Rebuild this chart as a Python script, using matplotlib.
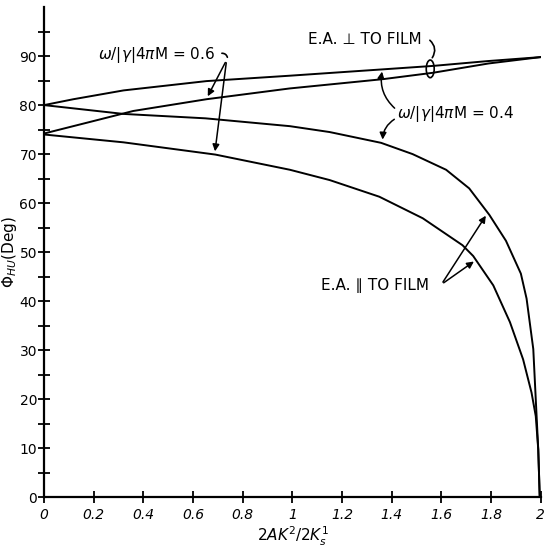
import matplotlib
matplotlib.use("Agg")
import matplotlib.pyplot as plt
from matplotlib.patches import Ellipse

# E.A. perpendicular to film
perp_04_x = [0, 0.118, 0.32, 0.654, 0.989, 1.365, 1.566, 1.79, 2.0]
perp_04_y = [80, 81.2, 83.0, 84.9, 86.0, 87.3, 88.0, 89.0, 89.8]
perp_06_x = [0, 0.172, 0.359, 0.654, 0.989, 1.365, 1.566, 1.79, 2.0]
perp_06_y = [74.2, 76.4, 78.8, 81.2, 83.4, 85.3, 86.6, 88.5, 89.8]

# E.A. parallel to film
par_04_x = [0, 0.32, 0.65, 0.99, 1.15, 1.357, 1.484, 1.619, 1.712, 1.793, 1.86,
            1.92, 1.943, 1.97, 1.98, 1.99, 1.996]
par_04_y = [80, 78.2, 77.3, 75.7, 74.5, 72.3, 70.0, 66.8, 63.0, 57.6, 52.3,
            45.6, 40.5, 30.2, 19.9, 9.7, 0]
par_06_x = [0, 0.32, 0.69, 0.99, 1.15, 1.35, 1.525, 1.685, 1.728, 1.809, 1.876,
            1.929, 1.963, 1.98, 1.99, 1.996]
par_06_y = [74, 72.4, 69.9, 66.8, 64.7, 61.3, 56.9, 51.4, 49.2, 43.2, 35.7,
            28.1, 21.3, 16.5, 9.7, 0]

x_ticks = [0, 0.2, 0.4, 0.6, 0.8, 1, 1.2, 1.4, 1.6, 1.8, 2]
x_labels = ["0", "0.2", "0.4", "0.6", "0.8", "1", "1.2", "1.4", "1.6", "1.8", "2"]
y_ticks = [0, 10, 20, 30, 40, 50, 60, 70, 80, 90]

fig = plt.figure(figsize=(5.44, 5.48), dpi=100)
ax = fig.add_axes([0.081, 0.093, 0.913, 0.894])

lw = 1.4
for xs, ys in [(perp_04_x, perp_04_y), (perp_06_x, perp_06_y),
               (par_04_x, par_04_y), (par_06_x, par_06_y)]:
    ax.plot(xs, ys, color="black", lw=lw, solid_joinstyle="round")

ax.set_xlim(0, 2)
ax.set_ylim(0, 100)
ax.spines["top"].set_visible(False)
ax.spines["right"].set_visible(False)
ax.spines["left"].set_linewidth(1.6)
ax.spines["bottom"].set_linewidth(1.6)
ax.set_xticks(x_ticks)
ax.set_xticklabels(x_labels, fontstyle="italic")
ax.set_yticks(y_ticks)
ax.set_yticks(range(5, 100, 10), minor=True)
ax.tick_params(axis="both", which="both", direction="inout", length=8, width=1.3,
               labelsize=10)
ax.tick_params(axis="x", pad=4)
ax.tick_params(axis="y", pad=1)

ax.set_xlabel(r"$2AK^2/2K_s^1$", fontsize=11, labelpad=2)
ax.set_ylabel(r"$\Phi_{HU}$(Deg)", fontsize=11, labelpad=0)

fs = 11
# omega = 0.6 labels
ax.text(0.454, 90.3, r"$\omega/|\gamma|4\pi$M = 0.6", fontsize=fs, ha="center", va="center")
ax.annotate("", xy=(0.74, 89.2), xytext=(0.705, 90.5),
            arrowprops=dict(arrowstyle="-", lw=1.2, connectionstyle="arc3,rad=-0.6"))
ax.annotate("", xy=(0.654, 81.3), xytext=(0.735, 89.2),
            arrowprops=dict(arrowstyle="-|>", lw=1.1, color="black", mutation_scale=10))
ax.annotate("", xy=(0.687, 70.0), xytext=(0.735, 89.2),
            arrowprops=dict(arrowstyle="-|>", lw=1.1, color="black", mutation_scale=10))

# E.A. perpendicular label
ax.text(1.29, 93.4, "E.A. ⊥ TO FILM", fontsize=fs, ha="center", va="center")
ax.annotate("", xy=(1.557, 89.2), xytext=(1.545, 93.6),
            arrowprops=dict(arrowstyle="-", lw=1.2, connectionstyle="arc3,rad=-0.5"))
ax.add_patch(Ellipse((1.555, 87.4), 0.032, 3.6, fill=False, lw=1.2))

# omega = 0.4 labels
ax.text(1.655, 78.2, r"$\omega/|\gamma|4\pi$M = 0.4", fontsize=fs, ha="center", va="center")
ax.annotate("", xy=(1.363, 87.4), xytext=(1.42, 79.0),
            arrowprops=dict(arrowstyle="-|>", lw=1.1, color="black", mutation_scale=10,
                            connectionstyle="arc3,rad=-0.3"))
ax.annotate("", xy=(1.363, 72.4), xytext=(1.42, 77.4),
            arrowprops=dict(arrowstyle="-|>", lw=1.1, color="black", mutation_scale=10,
                            connectionstyle="arc3,rad=0.3"))

# E.A. parallel label
ax.text(1.334, 43.1, "E.A. ∥ TO FILM", fontsize=fs, ha="center", va="center")
ax.annotate("", xy=(1.785, 57.9), xytext=(1.6, 43.4),
            arrowprops=dict(arrowstyle="-|>", lw=1.1, color="black", mutation_scale=10))
ax.annotate("", xy=(1.74, 48.4), xytext=(1.6, 43.4),
            arrowprops=dict(arrowstyle="-|>", lw=1.1, color="black", mutation_scale=10))

fig.savefig("out.png", dpi=100)
